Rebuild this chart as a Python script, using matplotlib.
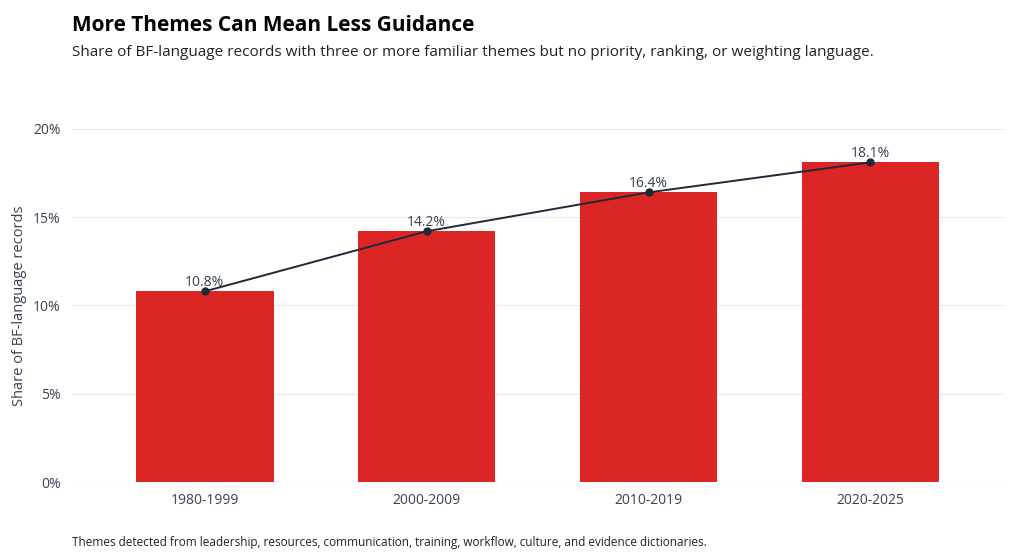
import matplotlib.pyplot as plt

periods = ["1980-1999", "2000-2009", "2010-2019", "2020-2025"]
shares = [10.8, 14.2, 16.4, 18.1]

plt.rcParams['font.family'] = ['Segoe UI', 'Open Sans', 'DejaVu Sans']

fig = plt.figure(figsize=(10.24, 5.6), dpi=100)
ax = fig.add_axes([0.070, 0.139, 0.910, 0.631])

x = range(len(periods))
ax.bar(x, shares, width=0.62, color='#dc2626', zorder=2)
ax.plot(x, shares, color='#1f2937', lw=1.4, marker='o', ms=5, zorder=3)
for i, v in zip(x, shares):
    ax.text(i, v + 0.1, f"{v}%", ha='center', va='bottom', fontsize=10, color='#374151', zorder=4)

ax.set_xlim(-0.6, 3.6)
ax.set_ylim(0, 20)
ax.set_yticks([0, 5, 10, 15, 20])
ax.set_yticklabels([f"{t}%" for t in [0, 5, 10, 15, 20]])
ax.set_xticks(list(x))
ax.set_xticklabels(periods)
ax.tick_params(length=0, labelsize=10, colors='#374151', pad=8)
ax.grid(axis='y', color='#e5e7eb', lw=0.8, zorder=0)
for s in ax.spines.values():
    s.set_visible(False)
ax.axhline(0, color='#e5e7eb', lw=0.8, zorder=1)
ax.set_ylabel("Share of BF-language records", fontsize=10.5, color='#374151')

fig.text(0.070, 0.945, "More Themes Can Mean Less Guidance", fontsize=15, fontweight='bold', color='black')
fig.text(0.070, 0.900, "Share of BF-language records with three or more familiar themes but no priority, ranking, or weighting language.",
         fontsize=11, color='#222222')
fig.text(0.070, 0.025, "Themes detected from leadership, resources, communication, training, workflow, culture, and evidence dictionaries.",
         fontsize=8.5, color='#222222')

fig.savefig("out.png", dpi=100)
